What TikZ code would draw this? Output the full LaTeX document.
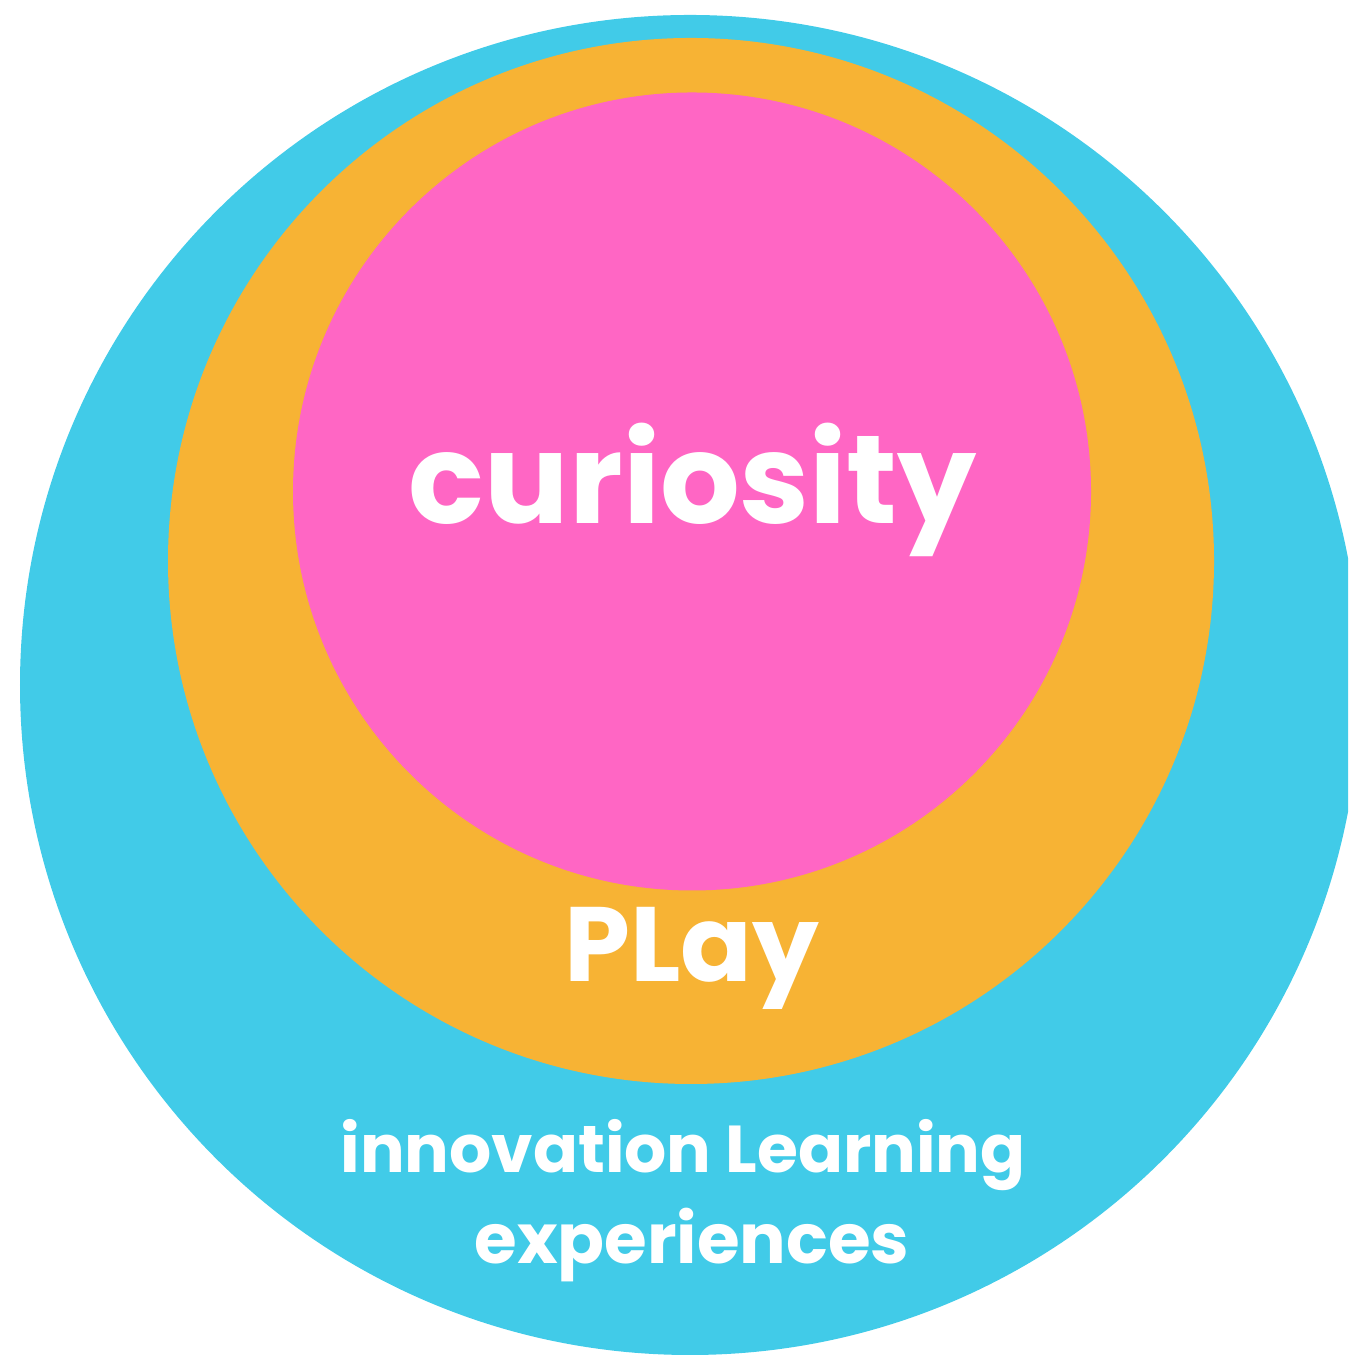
\documentclass[tikz,border=0pt]{standalone}
\usepackage{fontspec}
\usepackage{graphicx}
\setmainfont{Poppins}
\definecolor{cyanring}{HTML}{41CBE8}
\definecolor{orangering}{HTML}{F7B334}
\definecolor{pinkring}{HTML}{FF66C4}
\tikzset{
  ring/.style={circle, inner sep=0pt, minimum size=#1},
  label text/.style={text=white, font=\bfseries, inner sep=0pt, anchor=center}
}
\begin{document}
\begin{tikzpicture}
\useasboundingbox (0,0) rectangle (13.48,13.55);
\clip (0,0) rectangle (13.48,13.55);
\node[ring=13.40cm, fill=cyanring] (outer) at (6.90,6.70) {};
\node[ring=10.46cm, fill=orangering] (middle) at (6.91,7.94) {};
\node[ring=7.98cm, fill=pinkring] (inner) at (6.92,8.635) {};
\node[label text] (curiosity) at (6.93,8.65) {\resizebox{5.68cm}{!}{curiosity}};
\node[label text] (play) at (6.92,3.97) {\resizebox{2.55cm}{!}{PLay}};
\node[label text] (innov) at (6.83,2.00) {\resizebox{6.85cm}{!}{innovation Learning}};
\node[label text] (exper) at (6.92,1.10) {\resizebox{4.35cm}{!}{experiences}};
\end{tikzpicture}
\end{document}
